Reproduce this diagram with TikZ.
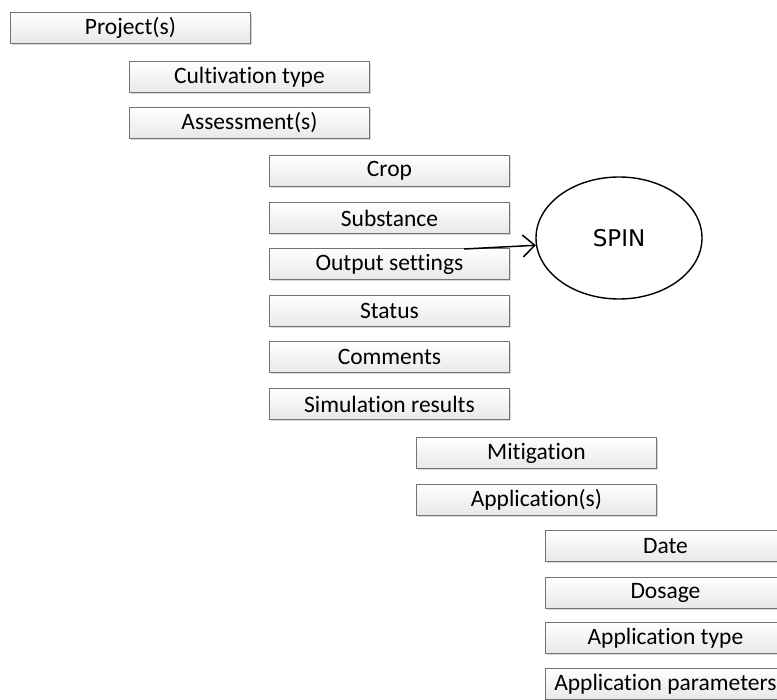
\documentclass[tikz,border=0pt]{standalone}
\usepackage{fontspec}
\setmainfont{Carlito}[Ligatures={NoCommon,NoRare,NoContextual}]
\newfontfamily\spinfont{DejaVu Sans}
\usetikzlibrary{shadows,arrows.meta,shapes.geometric}

\tikzset{
  itembox/.style={
    draw=black!55, line width=0.9pt,
    top color=white, bottom color=black!9,
    minimum width=240pt, minimum height=31pt,
    inner sep=0pt, anchor=north west,
    font=\fontsize{23.5}{28}\selectfont,
    drop shadow={shadow xshift=1.6pt, shadow yshift=-1.6pt, opacity=0.25, fill=black!60}
  },
  toolnode/.style={
    draw=black, line width=1.4pt, ellipse,
    minimum width=166pt, minimum height=122pt, inner sep=0pt,
    font=\spinfont\fontsize{23}{28}\selectfont
  },
  link/.style={draw=black, line width=1.5pt, -{Straight Barb[length=12pt,width=22pt,line width=1.5pt]}}
}

\begin{document}
\begin{tikzpicture}[x=1pt,y=-1pt]
  \useasboundingbox (0,0) rectangle (777,700);
  \clip (0,0) rectangle (777,700);
  \fill[white] (0,0) rectangle (777,700);

  % project level
  \node[itembox] (project) at (10,12) {Project(s)};
  \node[itembox] (cultivation) at (129,61) {Cultivation type};
  \node[itembox] (assessment) at (129,107) {Assessment(s)};

  % assessment level
  \node[itembox] (crop) at (269,155) {Crop};
  \node[itembox] (substance) at (269,202) {Substance};
  \node[itembox] (output) at (269,248) {Output settings};
  \node[itembox] (status) at (269,295) {Status};
  \node[itembox] (comments) at (269,341) {Comments};
  \node[itembox] (results) at (269,388) {Simulation results};

  % crop level
  \node[itembox] (mitigation) at (416,437) {Mitigation};
  \node[itembox] (applications) at (416,484) {Application(s)};

  % application level
  \node[itembox] (date) at (545,530) {Date};
  \node[itembox] (dosage) at (545,577) {Dosage};
  \node[itembox] (apptype) at (545,622) {Application type};
  \node[itembox] (appparams) at (545,668) {Application parameters};

  % external model
  \node[toolnode] (spin) at (619,238) {SPIN};
  \coordinate (outstart) at (464,249);
  \draw[link] (outstart) -- (spin.185);
\end{tikzpicture}
\end{document}
